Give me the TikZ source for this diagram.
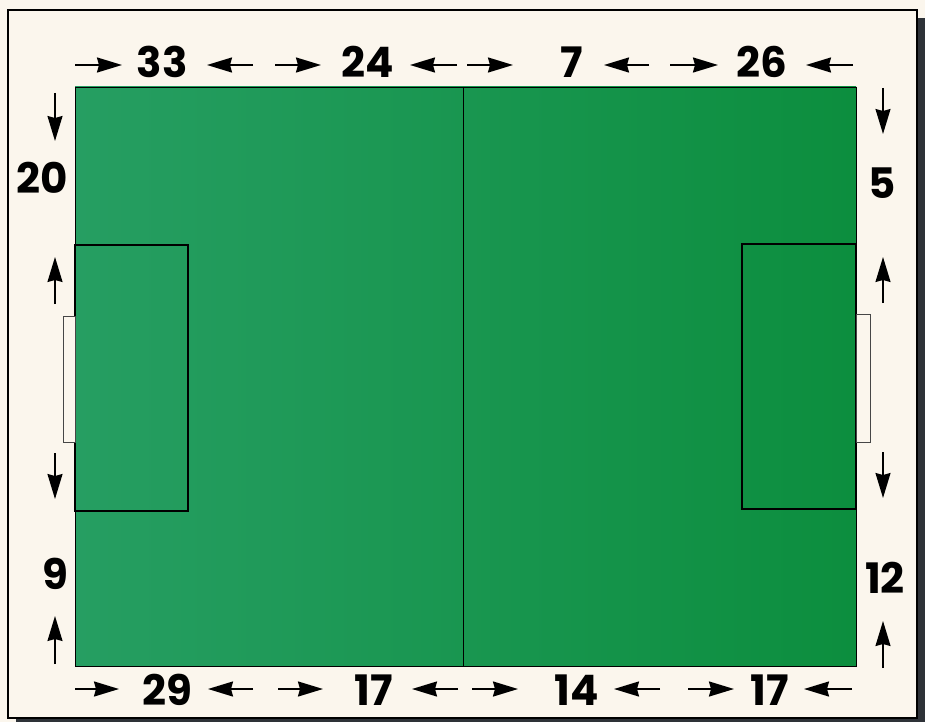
\documentclass[tikz,border=0pt]{standalone}
\usepackage{fontspec}
\newfontfamily\numfont{Poppins}
\usetikzlibrary{arrows.meta}
\definecolor{cream}{RGB}{251,246,237}
\definecolor{shadowgray}{RGB}{46,50,56}
\definecolor{fieldL}{RGB}{38,158,98}
\definecolor{fieldR}{RGB}{12,142,62}
\definecolor{goalline}{RGB}{70,70,70}
\begin{document}
\begin{tikzpicture}[x=1pt,y=-1pt,
  hdim/.style={line width=2pt,-{Stealth[length=25pt,width=15pt,inset=2pt]}},
  vdim/.style={line width=1.6pt,-{Stealth[length=25pt,width=15pt,inset=2pt]}},
  lbl/.style={font=\numfont\bfseries\fontsize{42}{42}\selectfont, inner sep=0pt, anchor=center},
  boxline/.style={draw=black,line width=1.2pt},
  goalbox/.style={fill=cream,draw=goalline,line width=0.7pt}]
\useasboundingbox (0,0) rectangle (925,722);
\fill[cream] (0,0) rectangle (925,722);
\fill[shadowgray] (16,18) rectangle (925,722);
\filldraw[fill=cream,draw=black,line width=1.2pt] (8,10) rectangle (917,718);
% field
\shade[left color=fieldL,right color=fieldR] (75,87) rectangle (856,666);
\draw[line width=0.9pt] (75,87) rectangle (856,666);
\draw[line width=1pt] (463,87) -- (463,666);
\draw[boxline] (75,245) rectangle (188,511);
\draw[boxline] (742,244) rectangle (856,509);
\filldraw[goalbox] (63,316) rectangle (75,442);
\filldraw[goalbox] (856,314) rectangle (870,442);
% top labels
\node[lbl] (t33) at (162,62) {33};
\node[lbl] (t24) at (368,62) {24};
\node[lbl] (t7) at (572,62) {7};
\node[lbl] (t26) at (762,62) {26};
% bottom labels
\node[lbl] (b29) at (167,690) {29};
\node[lbl] (b17a) at (374,690) {17};
\node[lbl] (b14) at (577,690) {14};
\node[lbl] (b17b) at (770,690) {17};
% side labels
\node[lbl] (l20) at (42,178) {20};
\node[lbl] (l9) at (55,574) {9};
\node[lbl] (r5) at (882,183) {5};
\node[lbl] (r12) at (885,578) {12};
% top arrows
\draw[hdim] (75,65) -- (122,65);
\draw[hdim] (253,65) -- (207,65);
\draw[hdim] (275,65) -- (321,65);
\draw[hdim] (457,65) -- (410,65);
\draw[hdim] (467,65) -- (513,65);
\draw[hdim] (649,65) -- (604,65);
\draw[hdim] (670,65) -- (718,65);
\draw[hdim] (853,65) -- (806,65);
% bottom arrows
\draw[hdim] (75,689) -- (119,689);
\draw[hdim] (253,689) -- (208,689);
\draw[hdim] (278,689) -- (323,689);
\draw[hdim] (458,689) -- (412,689);
\draw[hdim] (472,689) -- (518,689);
\draw[hdim] (660,689) -- (614,689);
\draw[hdim] (688,689) -- (734,689);
\draw[hdim] (852,689) -- (804,689);
% left arrows
\draw[vdim] (55,93) -- (55,141);
\draw[vdim] (55,304) -- (55,257);
\draw[vdim] (55,453) -- (55,499);
\draw[vdim] (55,664) -- (55,616);
% right arrows
\draw[vdim] (883,88) -- (883,134);
\draw[vdim] (883,303) -- (883,257);
\draw[vdim] (883,452) -- (883,498);
\draw[vdim] (883,668) -- (883,621);
\end{tikzpicture}
\end{document}
